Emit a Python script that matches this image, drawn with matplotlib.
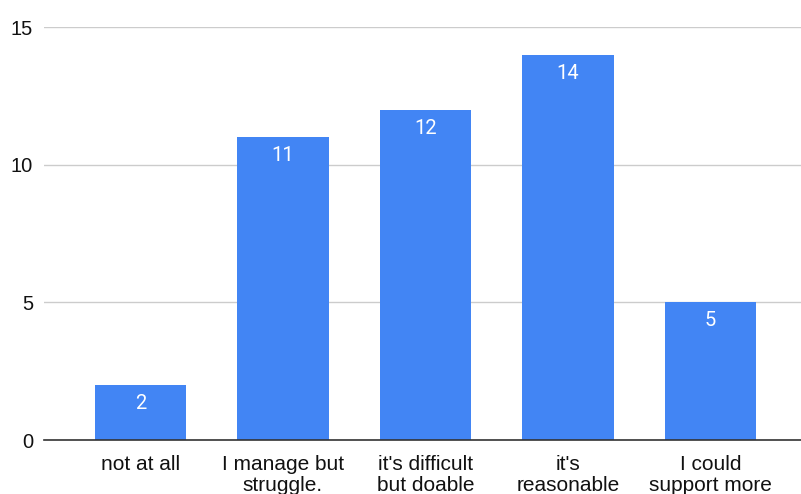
import matplotlib.pyplot as plt

# Survey answers and counts
categories = ["not at all", "I manage but\nstruggle.", "it's difficult\nbut doable",
              "it's\nreasonable", "I could\nsupport more"]
counts = [2, 11, 12, 14, 5]
yticks = [0, 5, 10, 15]

plt.rcParams['font.family'] = ['Liberation Sans', 'DejaVu Sans']

fig = plt.figure(figsize=(8.01, 4.94), dpi=100)
ax = fig.add_axes([44 / 801, 1 - 440 / 494, 1 - 44 / 801, (440 - 27) / 494])

x = list(range(len(categories)))
bars = ax.bar(x, counts, width=0.64, color='#4285F4', zorder=3)

# value labels inside the bar tops
for xi, v in zip(x, counts):
    ax.annotate(str(v), (xi, v), xytext=(0, -9), textcoords='offset pixels',
                ha='center', va='top', color='white', fontsize=14.5,
                family=['Roboto', 'DejaVu Sans'], zorder=4)

ax.set_ylim(0, 15)
ax.set_xlim(-0.677, 4.635)
ax.set_yticks(yticks)
ax.set_xticks(x)
ax.set_xticklabels(categories, fontsize=15, linespacing=1.15)
ax.tick_params(axis='y', length=0, pad=8, labelsize=14.5, labelcolor='#111111')
ax.tick_params(axis='x', length=0, pad=10.5, labelcolor='#111111')

ax.grid(axis='y', color='#cccccc', linewidth=1, zorder=0)
for s in ['top', 'right', 'left']:
    ax.spines[s].set_visible(False)
ax.spines['bottom'].set_color('#333333')
ax.spines['bottom'].set_linewidth(1.2)
ax.spines['bottom'].set_zorder(5)

fig.savefig('out.png', dpi=100)
